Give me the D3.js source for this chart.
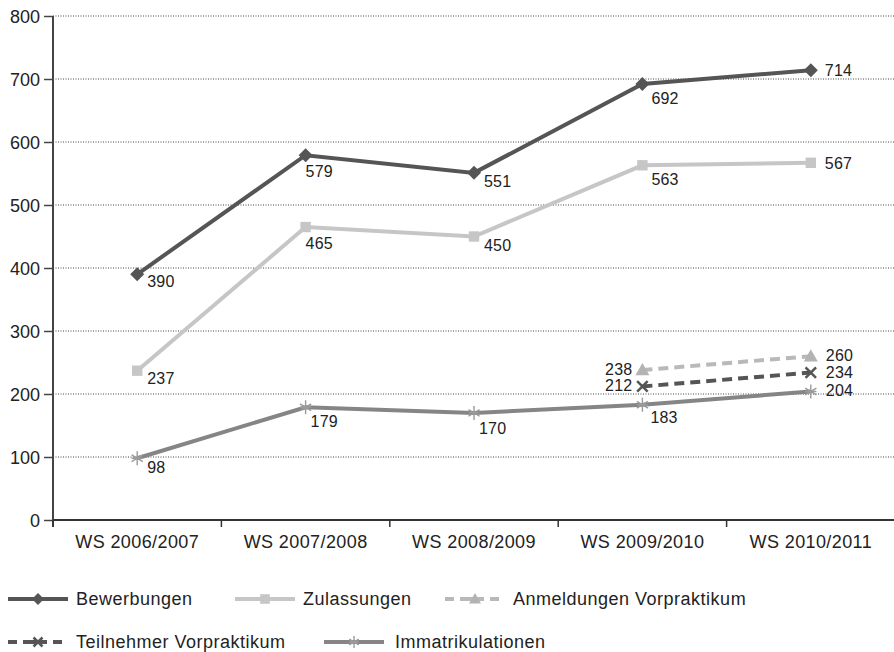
<!DOCTYPE html>
<html><head><meta charset="utf-8">
<script src="https://cdn.jsdelivr.net/npm/d3@7"></script>
<style>
html,body{margin:0;padding:0;background:#fff;}
text{font-family:"Liberation Sans",Arial,sans-serif;fill:#222;}
</style></head>
<body><svg id="c" width="894" height="652"></svg>
<script>
const categories = ["WS 2006/2007","WS 2007/2008","WS 2008/2009","WS 2009/2010","WS 2010/2011"];
const yTicks = [0,100,200,300,400,500,600,700,800];
const bewerbungen = [390,579,551,692,714];
const zulassungen = [237,465,450,563,567];
const anmeldungenVorpraktikum = [null,null,null,238,260];
const teilnehmerVorpraktikum = [null,null,null,212,234];
const immatrikulationen = [98,179,170,183,204];

const series = [
  {name:"Bewerbungen", values:bewerbungen, color:"#555", marker:"diamond", dash:null, mcolor:"#555"},
  {name:"Zulassungen", values:zulassungen, color:"#c6c6c6", marker:"square", dash:null, mcolor:"#c6c6c6"},
  {name:"Anmeldungen Vorpraktikum", values:anmeldungenVorpraktikum, color:"#b9b9b9", marker:"triangle", dash:"10,6", mcolor:"#b3b3b3"},
  {name:"Teilnehmer Vorpraktikum", values:teilnehmerVorpraktikum, color:"#555", marker:"x", dash:"10,6", mcolor:"#555"},
  {name:"Immatrikulationen", values:immatrikulationen, color:"#858585", marker:"star", dash:null, mcolor:"#9a9a9a"}
];

const svg = d3.select("#c");
const x = d3.scaleBand().domain(categories).range([53,895]);
const y = d3.scaleLinear().domain([0,800]).range([520,16]);

// grid
svg.append("g").selectAll("line").data(yTicks.filter(d=>d>0)).join("line")
  .attr("x1",53).attr("x2",894).attr("y1",d=>y(d)).attr("y2",d=>y(d))
  .attr("stroke","#444").attr("stroke-width",1).attr("stroke-dasharray","1,1.5");

// y axis
const ya = svg.append("g").attr("transform","translate(53,0)")
  .call(d3.axisLeft(y).tickValues(yTicks).tickSize(9).tickPadding(4));
ya.select(".domain").attr("stroke","#444").attr("stroke-width",2).attr("d","M0,16V527");
ya.selectAll(".tick line").attr("stroke","#444").attr("stroke-width",1.5);
ya.selectAll(".tick text").style("font-size","18px").style("font-family","Liberation Sans, Arial, sans-serif").attr("fill","#222").attr("dy","0.35em");

// x axis
const xa = svg.append("g").attr("transform","translate(0,520)")
  .call(d3.axisBottom(x).tickSize(0).tickPadding(0));
xa.select(".domain").attr("stroke","#333").attr("stroke-width",2).attr("d","M53,0H894");
xa.selectAll(".tick text").style("font-size","18px").style("font-family","Liberation Sans, Arial, sans-serif")
  .attr("fill","#222").attr("y",28).attr("dy",0).style("letter-spacing","0.4px");
// boundary ticks
svg.append("g").selectAll("line").data(categories).join("line")
  .attr("x1",d=>x(d)).attr("x2",d=>x(d)).attr("y1",520).attr("y2",527)
  .attr("stroke","#333").attr("stroke-width",1.5);

function drawMarker(g, type, color, s){
  if(type==="diamond"){
    g.append("path").attr("d",`M0,${-s}L${s},0L0,${s}L${-s},0Z`).attr("fill",color);
  } else if(type==="square"){
    g.append("rect").attr("x",-s*0.8).attr("y",-s*0.8).attr("width",s*1.6).attr("height",s*1.6).attr("fill",color);
  } else if(type==="triangle"){
    g.append("path").attr("d",`M0,${-s}L${s},${s*0.75}L${-s},${s*0.75}Z`).attr("fill",color);
  } else if(type==="x"){
    const a=s*0.75;
    g.append("path").attr("d",`M${-a},${-a}L${a},${a}M${-a},${a}L${a},${-a}`).attr("stroke",color).attr("stroke-width",2.5).attr("fill","none");
  } else if(type==="star"){
    const a=s*0.8, b=s;
    g.append("path").attr("d",`M0,${-b}V${b}M${-a},${-a*0.6}L${a},${a*0.6}M${-a},${a*0.6}L${a},${-a*0.6}M${-a},0H${a}`)
      .attr("stroke",color).attr("stroke-width",1.4).attr("fill","none");
  }
}

const cx = c => x(c)+x.bandwidth()/2;
const line = d3.line().defined(d=>d.v!=null).x(d=>cx(d.c)).y(d=>y(d.v));

// label offsets per category (dx, dy baseline, anchor)
const labelPos = [
  {dx:10, dy:13, a:"start"},
  {dx:0, dy:22, a:"start"},
  {dx:10, dy:14, a:"start"},
  {dx:9, dy:20, a:"start"},
  {dx:14, dy:6, a:"start"}
];

series.forEach((s,si)=>{
  const pts = categories.map((c,i)=>({c, v:s.values[i], i}));
  svg.append("path").datum(pts).attr("d",line).attr("fill","none")
    .attr("stroke",s.color).attr("stroke-width",4)
    .attr("stroke-dasharray",s.dash);
  const valid = pts.filter(d=>d.v!=null);
  valid.forEach(d=>{
    const g = svg.append("g").attr("transform",`translate(${cx(d.c)},${y(d.v)})`);
    drawMarker(g, s.marker, s.mcolor, s.marker==="square"?6.5:7);
    let lp = labelPos[d.i];
    if(s.name==="Immatrikulationen"){
      lp = [{dx:10,dy:15,a:"start"},{dx:5,dy:20,a:"start"},{dx:5,dy:21,a:"start"},{dx:8,dy:18,a:"start"},{dx:15,dy:5,a:"start"}][d.i];
    }
    if(s.name==="Anmeldungen Vorpraktikum"||s.name==="Teilnehmer Vorpraktikum"){
      lp = d.i===3 ? {dx:-10,dy:5,a:"end"} : {dx:15,dy:5,a:"start"};
    }
    svg.append("text").attr("x",cx(d.c)+lp.dx).attr("y",y(d.v)+lp.dy)
      .attr("text-anchor",lp.a).style("font-size","16px").style("letter-spacing","0.2px").text(d.v);
  });
});

// legend
const legendItems = [
  {s:0, x:8, y:599},
  {s:1, x:235, y:599},
  {s:2, x:445, y:599},
  {s:3, x:8, y:642},
  {s:4, x:324, y:642}
];
legendItems.forEach(li=>{
  const s = series[li.s];
  const g = svg.append("g").attr("transform",`translate(${li.x},${li.y})`);
  g.append("line").attr("x1",0).attr("x2",60).attr("y1",0).attr("y2",0)
    .attr("stroke",s.color).attr("stroke-width",4).attr("stroke-dasharray",s.dash?"9,6":null);
  const mg = g.append("g").attr("transform","translate(30,0)");
  if(s.dash){ mg.append("rect").attr("x",-8).attr("y",-3).attr("width",16).attr("height",6).attr("fill","#fff"); 
    mg.append("line").attr("x1",-8).attr("x2",8).attr("stroke",s.color).attr("stroke-width",4); }
  drawMarker(mg, s.marker, s.mcolor, 6);
  g.append("text").attr("x",li.s===4?71:68).attr("y",6).style("font-size","18px").style("letter-spacing","0.5px").text(s.name);
});
</script></body></html>
